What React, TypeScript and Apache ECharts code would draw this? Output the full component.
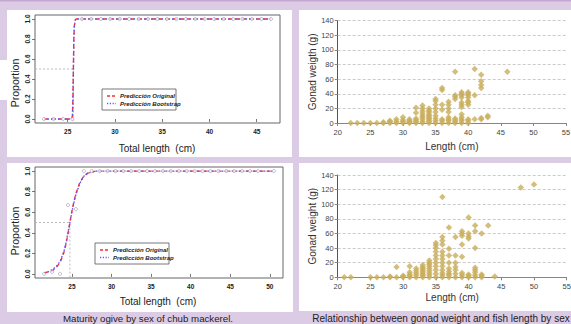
import { useEffect, useRef } from "react";
import * as echarts from "echarts";

const FONT = "Liberation Sans, Arial, Helvetica, sans-serif";

// ---- Top-left ogive ----
const tlObsLen = [22.5, 23.5, 24.5, 25.5, 26.5, 27.5, 28.5, 29.5, 30.5, 31.5, 32.5, 33.5, 34.5, 35.5, 36.5, 37.5, 38.5, 39.5, 40.5, 41.5, 42.5, 43.5, 44.5, 45.5, 46.5];
const tlObsProp = [0, 0, 0, 0, 1, 1, 1, 1, 1, 1, 1, 1, 1, 1, 1, 1, 1, 1, 1, 1, 1, 1, 1, 1, 1];
const tlCurveLen = [22.5, 25.4, 25.5, 25.55, 25.6, 25.65, 25.7, 25.8, 25.9, 26.0, 46.5];
const tlOrigProp = [0, 0, 0.03, 0.2, 0.5, 0.8, 0.93, 0.99, 1, 1, 1];
const tlBootProp = [0, 0, 0.02, 0.18, 0.48, 0.78, 0.92, 0.99, 1, 1, 1];
const tlL50 = 25.6;
const tlXRange = [21.54, 47.46];

// ---- Bottom-left ogive ----
const blObsLen = [21.5, 22.5, 23.5, 24.5, 25.5, 26.5, 27.5, 28.5, 29.5, 30.5, 31.5, 32.5, 33.5, 34.5, 35.5, 36.5, 37.5, 38.5, 39.5, 40.5, 41.5, 42.5, 43.5, 44.5, 45.5, 46.5, 47.5, 48.5, 50.5];
const blObsProp = [0, 0.02, 0, 0.67, 0.63, 1, 1, 1, 1, 1, 1, 1, 1, 1, 1, 1, 1, 1, 1, 1, 1, 1, 1, 1, 1, 1, 1, 1, 1];
const blCurveLen = [21.5, 22, 22.5, 23, 23.5, 24, 24.25, 24.5, 24.75, 25, 25.25, 25.5, 26, 26.5, 27, 27.5, 28, 50.5];
const blOrigProp = [0.01, 0.02, 0.03, 0.06, 0.11, 0.21, 0.29, 0.39, 0.5, 0.61, 0.7, 0.78, 0.89, 0.95, 0.98, 0.99, 1, 1];
const blBootProp = [0.01, 0.02, 0.04, 0.07, 0.12, 0.22, 0.3, 0.4, 0.5, 0.6, 0.69, 0.77, 0.88, 0.95, 0.98, 0.99, 1, 1];
const blL50 = 24.75;
const blXRange = [20.34, 51.66];

const ogiveXTicks = [25, 30, 35, 40, 45];
const ogiveXTicksBottom = [25, 30, 35, 40, 45, 50];
const ogiveYTicks = [0, 0.2, 0.4, 0.6, 0.8, 1.0];

// ---- Gonad weight vs length (length cm, weights g) ----
const trGroups: [number, number[]][] = [
  [22, [0]], [23, [0]], [24, [0]], [25, [0]], [26, [0]], [27, [0, 1]],
  [28, [0, 2, 3]], [29, [0, 2, 5]], [30, [0, 2, 4, 8]], [31, [0, 1, 2, 3, 5]],
  [32, [0, 2, 4, 6, 14, 21]], [33, [0, 2, 5, 8, 10, 13, 16, 20, 24]],
  [34, [0, 2, 4, 6, 8, 10, 12, 15, 17, 20]], [35, [0, 3, 6, 10, 15, 20, 25, 30, 33]],
  [36, [0, 3, 5, 18, 25, 45, 48]], [37, [0, 3, 5, 8, 15, 20, 25, 29]],
  [38, [0, 2, 4, 6, 33, 36, 38, 70]], [39, [0, 3, 5, 8, 12, 22, 25, 28, 35, 38, 40, 42]],
  [40, [0, 3, 5, 25, 28, 30, 35, 38, 40, 42]], [41, [5, 38, 74]],
  [42, [5, 7, 48, 52, 57, 66]], [43, [8, 10]], [46, [70]],
];
const brGroups: [number, number[]][] = [
  [21, [0]], [22, [0]], [25, [0]], [26, [0]], [27, [0]], [28, [0, 1]], [29, [0, 14]],
  [30, [0, 1, 2]], [31, [0, 2, 4, 7, 15]], [32, [0, 3, 6, 9, 12]],
  [33, [0, 2, 4, 6, 8, 10, 12, 14, 17]], [34, [0, 3, 6, 9, 12, 15, 18, 20, 23]],
  [35, [0, 5, 10, 15, 20, 25, 30, 35, 40, 44, 47]],
  [36, [0, 3, 6, 10, 15, 20, 25, 30, 35, 45, 50, 55, 110]],
  [37, [0, 3, 5, 8, 12, 20, 30, 39, 68]], [38, [0, 5, 10, 14, 20, 30, 55]],
  [39, [0, 3, 6, 28, 45, 57, 60, 63]], [40, [0, 2, 4, 53, 56, 60, 82]],
  [41, [0, 3, 7, 10, 13, 40, 63, 71]], [42, [0, 2, 4, 60]], [43, [71]], [44, [1]],
  [48, [123]], [50, [127]],
];

const toPairs = (xs: number[], ys: number[]) => xs.map((x, i) => [x, ys[i]]);
const groupPairs = (g: [number, number[]][]) => g.flatMap(([l, ws]) => ws.map((w) => [l, w]));

const RED = "#ff2a2a";
const BLUE = "#5a5aff";
const GOLD = "#c9ae5c";
const LAV = "#dccbe4";

function ogiveAxes(gi: number, xr: number[], xt: number[]) {
  const x = {
    type: "value", gridIndex: gi, min: xr[0], max: xr[1],
    axisLine: { show: false }, splitLine: { show: false },
    axisTick: { show: true, length: 3, customValues: xt, lineStyle: { color: "#555", width: 0.8 } },
    axisLabel: { customValues: xt, fontSize: 6.5, fontWeight: "bold", color: "#222", margin: 5, fontFamily: FONT },
  };
  const y = {
    type: "value", gridIndex: gi, min: -0.04, max: 1.04,
    axisLine: { show: false }, splitLine: { show: false },
    axisTick: { show: true, length: 3, customValues: ogiveYTicks, lineStyle: { color: "#555", width: 0.8 } },
    axisLabel: {
      customValues: ogiveYTicks, rotate: 90, fontSize: 6.5, fontWeight: "bold", color: "#222", margin: 4, fontFamily: FONT,
      formatter: (v: number) => v.toFixed(1),
    },
  };
  return { x, y };
}

function scatterAxes(gi: number, yName: string, xGap: number) {
  const axisColor = "#868686";
  const x = {
    type: "value", gridIndex: gi, min: 20, max: 55, interval: 5,
    name: "Length (cm)", nameLocation: "middle", nameGap: xGap,
    nameTextStyle: { fontSize: 10, color: "#333", fontFamily: FONT },
    axisLine: { show: true, lineStyle: { color: axisColor, width: 1 } },
    axisTick: { show: true, length: 3, lineStyle: { color: axisColor } },
    splitLine: { show: false },
    axisLabel: { fontSize: 7.5, color: "#444", margin: 5, fontFamily: FONT },
  };
  const y = {
    type: "value", gridIndex: gi, min: 0, max: 140, interval: 20,
    name: yName, nameLocation: "middle", nameGap: 20,
    nameTextStyle: { fontSize: 10, color: "#333", fontFamily: FONT },
    axisLine: { show: true, lineStyle: { color: "#555", width: 1 } },
    axisTick: { show: true, length: 3, lineStyle: { color: axisColor } },
    splitLine: { show: true, lineStyle: { color: "#bdbdbd", type: [3, 2], width: 0.8 } },
    axisLabel: { fontSize: 7.5, color: "#444", margin: 4, fontFamily: FONT },
  };
  return { x, y };
}

function ogiveSeries(gi: number, cl: number[], orig: number[], boot: number[], ol: number[], op: number[], l50: number, xmin: number) {
  return [
    {
      type: "line", xAxisIndex: gi, yAxisIndex: gi, data: [[xmin, 0.5], [l50, 0.5], [l50, -0.04]],
      symbol: "none", lineStyle: { color: "#aaaaaa", width: 0.8, type: [2, 2] }, z: 1,
    },
    {
      type: "line", name: "Predicción Original", xAxisIndex: gi, yAxisIndex: gi, data: toPairs(cl, orig),
      symbol: "none", lineStyle: { color: RED, width: 1.4, type: [4, 3] }, z: 2,
    },
    {
      type: "line", name: "Predicción Bootstrap", xAxisIndex: gi, yAxisIndex: gi, data: toPairs(cl, boot),
      symbol: "none", lineStyle: { color: BLUE, width: 1.4, type: [1.5, 2] }, z: 3,
    },
    {
      type: "scatter", xAxisIndex: gi, yAxisIndex: gi, data: toPairs(ol, op),
      symbol: "circle", symbolSize: 3.2,
      itemStyle: { color: "rgba(255,255,255,0.9)", borderColor: "#8c8ca8", borderWidth: 0.7 }, z: 4,
    },
  ];
}

function legendBox(x: number, y: number) {
  return {
    type: "group", x, y, children: [
      { type: "rect", shape: { x: 0, y: 0, width: 74, height: 21 }, style: { fill: "#fff", stroke: "#555", lineWidth: 0.8 } },
      { type: "line", shape: { x1: 5, y1: 7, x2: 14, y2: 7 }, style: { stroke: RED, lineWidth: 1.4, lineDash: [3, 2] } },
      { type: "line", shape: { x1: 5, y1: 14.5, x2: 14, y2: 14.5 }, style: { stroke: BLUE, lineWidth: 1.4, lineDash: [1.2, 1.6] } },
      { type: "text", x: 18, y: 7, style: { text: "Predicción Original", fontSize: 6, fontStyle: "italic", fontWeight: "bold", fill: "#222", fontFamily: FONT, verticalAlign: "middle" } },
      { type: "text", x: 18, y: 14.5, style: { text: "Predicción Bootstrap", fontSize: 6, fontStyle: "italic", fontWeight: "bold", fill: "#222", fontFamily: FONT, verticalAlign: "middle" } },
    ],
  };
}

export default function App() {
  const ref = useRef<HTMLDivElement>(null);
  useEffect(() => {
    document.body.style.margin = "0";
    const chart = echarts.init(ref.current!, null, { renderer: "svg" });
    const a0 = ogiveAxes(0, tlXRange, ogiveXTicks);
    const a1 = scatterAxes(1, "Gonad weigth (g)", 18);
    const a2 = ogiveAxes(2, blXRange, ogiveXTicksBottom);
    const a3 = scatterAxes(3, "Gonad weight (g)", 15);
    const panel = (x: number, y: number, w: number, h: number) => ({
      type: "rect", z: -10, silent: true, shape: { x, y, width: w, height: h }, style: { fill: "#ffffff" },
    });
    chart.setOption({
      animation: false,
      backgroundColor: LAV,
      textStyle: { fontFamily: FONT },
      grid: [
        { left: 35, top: 15, width: 245, height: 108, show: true, borderColor: "#666", borderWidth: 1, backgroundColor: "transparent", containLabel: false, outerBoundsMode: "none" },
        { left: 337.7, top: 20.7, width: 228.3, height: 102.3, containLabel: false, outerBoundsMode: "none" },
        { left: 35, top: 167, width: 248, height: 111, show: true, borderColor: "#666", borderWidth: 1, backgroundColor: "transparent", containLabel: false, outerBoundsMode: "none" },
        { left: 337.7, top: 175, width: 229, height: 102.3, containLabel: false, outerBoundsMode: "none" },
      ],
      xAxis: [a0.x, a1.x, a2.x, a3.x],
      yAxis: [a0.y, a1.y, a2.y, a3.y],
      series: [
        ...ogiveSeries(0, tlCurveLen, tlOrigProp, tlBootProp, tlObsLen, tlObsProp, tlL50, tlXRange[0]),
        {
          type: "scatter", xAxisIndex: 1, yAxisIndex: 1, data: groupPairs(trGroups),
          symbol: "diamond", symbolSize: 6.5, itemStyle: { color: GOLD },
        },
        ...ogiveSeries(2, blCurveLen, blOrigProp, blBootProp, blObsLen, blObsProp, blL50, blXRange[0]),
        {
          type: "scatter", xAxisIndex: 3, yAxisIndex: 3, data: groupPairs(brGroups),
          symbol: "diamond", symbolSize: 6.5, itemStyle: { color: GOLD },
        },
      ],
      graphic: [
        { type: "rect", z: -10, silent: true, shape: { x: 0, y: 0, width: 571, height: 1.5 }, style: { fill: "#c4a7d2" } },
        panel(7, 10, 285, 147),
        panel(0, 60, 7, 40),
        panel(299, 10, 272, 147),
        panel(7, 163, 286, 149),
        panel(299, 163, 272, 148),
        legendBox(102, 89),
        legendBox(95, 243),
        { type: "text", x: 15, y: 83, rotation: Math.PI / 2, style: { text: "Proportion", fontSize: 10.5, fill: "#222", fontFamily: FONT, align: "center", verticalAlign: "middle" } },
        { type: "text", x: 15, y: 231, rotation: Math.PI / 2, style: { text: "Proportion", fontSize: 10.5, fill: "#222", fontFamily: FONT, align: "center", verticalAlign: "middle" } },
        { type: "text", x: 157, y: 148, style: { text: "Total length  (cm)", fontSize: 10, fill: "#222", fontFamily: FONT, align: "center", verticalAlign: "middle" } },
        { type: "text", x: 158, y: 301.5, style: { text: "Total length  (cm)", fontSize: 10, fill: "#222", fontFamily: FONT, align: "center", verticalAlign: "middle" } },
        { type: "text", x: 148, y: 318, style: { text: "Maturity ogive by sex of chub mackerel.", fontSize: 9.7, fill: "#222", fontFamily: FONT, align: "center", verticalAlign: "middle" } },
        { type: "text", x: 441, y: 318, style: { text: "Relationship between gonad weight and fish length by sex", fontSize: 10, fill: "#222", fontFamily: FONT, align: "center", verticalAlign: "middle" } },
      ],
    });
    return () => chart.dispose();
  }, []);
  return <div ref={ref} style={{ position: "fixed", left: 0, top: 0, width: 571, height: 324 }} />;
}
